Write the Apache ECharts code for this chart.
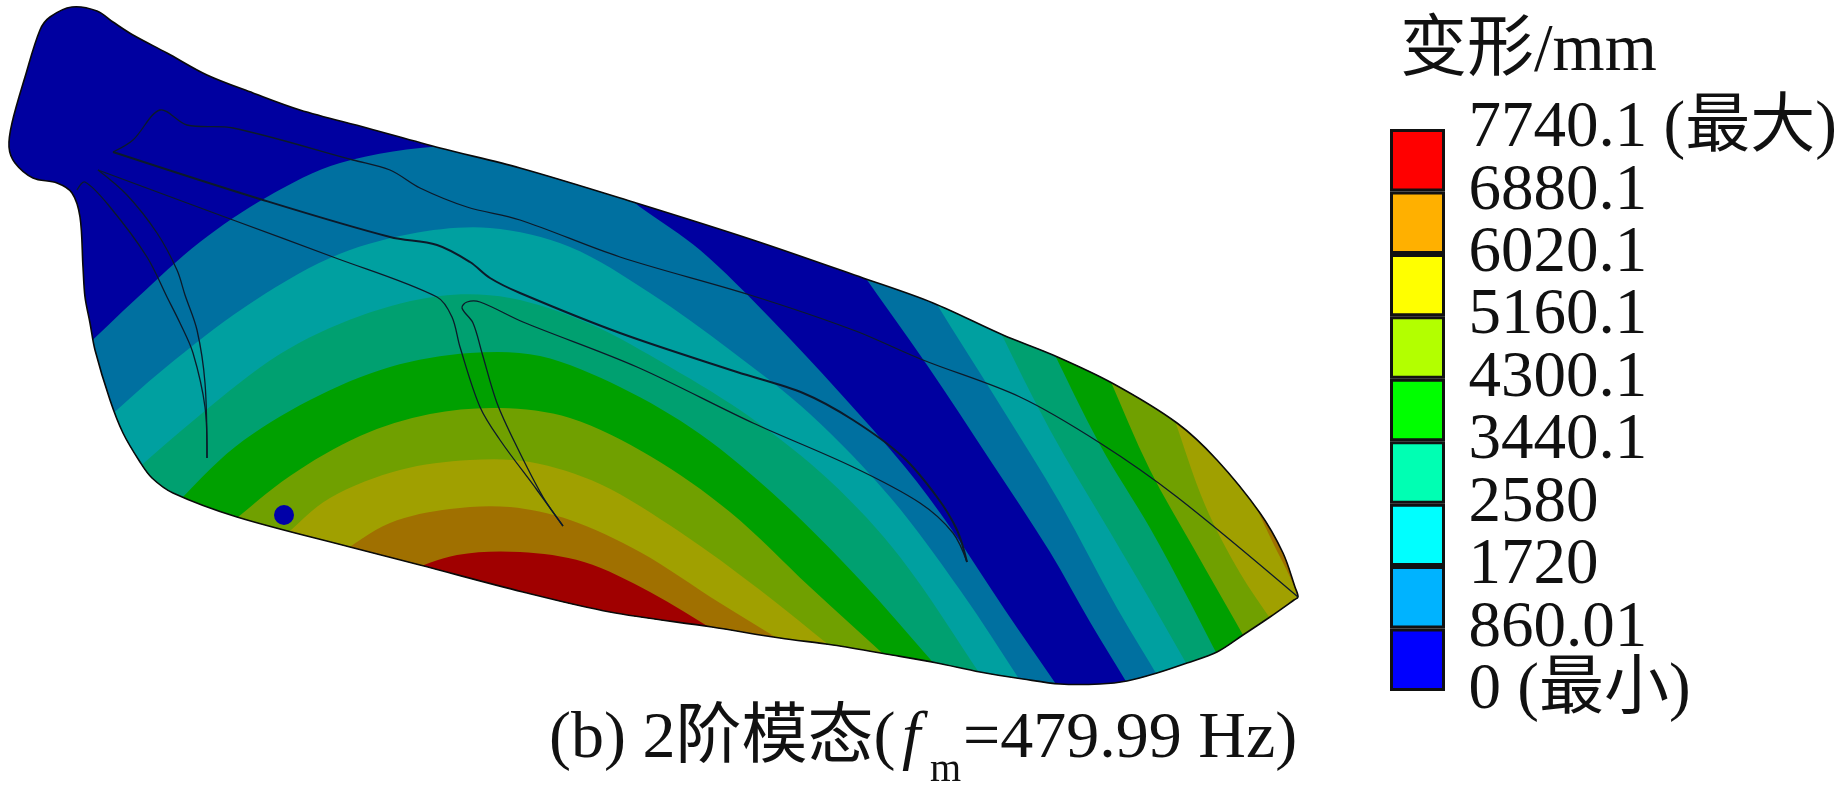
<!DOCTYPE html>
<html><head><meta charset="utf-8">
<style>html,body{margin:0;padding:0;background:#fff}#c{width:1843px;height:786px}</style>
<script src="https://cdn.jsdelivr.net/npm/echarts@6/dist/echarts.min.js"></script>
</head><body><div id="c"></div>
<script>
const legendTitle = '变形/mm';
const tickLabels = ['0 (最小)','860.01','1720','2580','3440.1','4300.1','5160.1','6020.1','6880.1','7740.1 (最大)'];
const legendColors = ['#0000ff','#00b3ff','#00ffff','#00ffb3','#00ff00','#b3ff00','#ffff00','#ffb000','#ff0000'];
const shadedColors = ['#0000a0','#0070a0','#00a0a0','#00a070','#00a000','#70a000','#a0a000','#a07000','#a00000'];
const captionA = '(b) 2阶模态(';
const captionB = '=479.99 Hz)';

const wingOutline = [[72,7],[97,11],[113,22],[133,35],[167,53],[207,75],[253,93],[300,110],[367,128],[440,148],[520,168],[633,202],[753,240],[863,278],[933,303],[1003,335],[1053,355],[1112,383],[1177,423],[1217,460],[1260,513],[1283,553],[1295,587],[1298,597],[1294,600],[1270,617],[1243,635],[1217,652],[1187,663],[1157,673],[1127,681],[1100,684],[1060,684],[1023,679],[980,672],[937,663],[892,655],[833,645],[780,638],[712,627],[610,612],[523,592],[420,565],[350,547],[237,517],[173,493],[152,478],[140,462],[123,433],[110,400],[95,350],[90,323],[85,297],[83,267],[80,217],[72,193],[57,183],[33,178],[15,163],[9,147],[12,123],[25,77],[40,30],[50,17]];

// left lobe contour lines, lowest level first
const lobe1 = [[55,375],[80,352],[137,298],[200,242],[267,197],[340,163],[447,146],[530,155],[615,188],[640,207],[700,250],[770,318],[840,393],[905,467],[950,527],[1005,610],[1060,690],[1080,720]];
const lobe2 = [[75,447],[100,425],[165,368],[245,307],[330,258],[410,234],[490,228],[570,247],[650,293],[730,350],[810,414],[890,497],[960,590],[1023,685],[1045,720]];
const lobe3 = [[105,497],[130,475],[200,415],[280,354],[360,316],[440,296],[510,298],[590,324],[670,367],[750,417],[830,481],[900,557],[982,677],[1005,712]];
const lobe4 = [[145,535],[170,510],[235,447],[310,400],[390,367],[470,353],[540,356],[620,387],[700,434],[780,500],[860,580],[937,667],[965,700]];
const lobe5 = [[200,548],[226,527],[290,476],[360,436],[430,414],[500,408],[570,418],[650,456],[730,512],[810,587],[892,662],[925,692]];
const lobe6 = [[255,562],[280,540],[330,498],[400,470],[470,460],[530,462],[600,484],[680,532],[760,590],[835,650],[870,678]];
const lobe7 = [[310,575],[335,557],[390,523],[450,509],[510,507],[570,520],[640,552],[720,603],[785,643],[820,665]];
const lobe8 = [[375,590],[405,573],[457,555],[520,552],[584,562],[650,592],[717,632],[750,652]];

// tip side contour lines, lowest level first
const tip1 = [[845,248],[860,270],[927,365],[990,460],[1050,552],[1090,622],[1130,688],[1150,722]];
const tip2 = [[918,270],[933,298],[1000,405],[1060,503],[1117,608],[1160,680],[1180,715]];
const tip3 = [[985,298],[997,325],[1050,430],[1110,532],[1150,600],[1190,670],[1210,705]];
const tip4 = [[1038,320],[1050,345],[1100,445],[1150,528],[1190,602],[1220,660],[1240,695]];
const tip5 = [[1098,350],[1108,375],[1150,470],[1193,547],[1247,642],[1265,675]];
const tip6 = [[1165,392],[1173,415],[1205,505],[1240,573],[1274,624],[1295,655]];
const tip7 = [[1245,485],[1255,505],[1273,543],[1290,577],[1300,602],[1310,625]];

const ribUpper = [[113,152],[133,140],[160,110],[187,125],[233,128],[353,160],[390,170],[420,188],[467,207],[520,220],[620,257],[750,295],[853,330],[923,360],[1020,397],[1100,443],[1177,497],[1298,597]];
const ribSpar = [[113,152],[263,200],[390,237],[437,245],[470,262],[490,278],[520,293],[620,333],[737,372],[803,393],[853,420],[903,457],[937,497],[957,530],[967,562]];
const ribReturn = [[967,562],[953,533],[920,503],[853,467],[753,423],[637,367],[523,322],[480,302],[467,302],[462,308],[473,323],[482,353],[497,403],[517,447],[543,497],[563,526]];
const ribMid = [[563,526],[537,490],[500,440],[480,407],[460,347],[452,317],[437,297],[333,257],[233,220],[98,170]];
const ribRoot = [[98,170],[127,195],[157,233],[177,270],[185,295],[197,330],[205,383],[207,458]];
const ribRoot2 = [[207,458],[205,407],[193,353],[180,323],[167,297],[147,257],[110,207],[85,182],[77,190]];

const probe = [[284,515]];

const lobes = [lobe1,lobe2,lobe3,lobe4,lobe5,lobe6,lobe7,lobe8];
const tips = [tip1,tip2,tip3,tip4,tip5,tip6,tip7];
const ribs = [ribUpper,ribSpar,ribReturn,ribMid,ribRoot,ribRoot2];
const ribWidths = [1.3,2,1.3,1.3,1.3,1.3];

const FONT = '"Liberation Serif","Noto Sans CJK SC",serif';
const chart = echarts.init(document.getElementById('c'),null,{renderer:'canvas'});
const px = (api,pts)=>pts.map(p=>api.coord(p));
const BOTTOM = 780;
const SMOOTH = 0.33;

function contourSeries(list, closeFn, z){
  return {
    type:'custom', xAxisIndex:0, yAxisIndex:0, clip:false, silent:true, z,
    data:list.map((_,i)=>[i,i+1]),
    encode:{x:0,y:1},
    renderItem(params,api){
      const i = api.value(0);
      const pts = closeFn(list[i]);
      return {type:'polygon',
        shape:{points:px(api,pts),smooth:SMOOTH},
        style:{fill:shadedColors[i+1],stroke:null},
        clipPath:{type:'polygon',shape:{points:px(api,wingOutline),smooth:SMOOTH}}};
    }
  };
}
const closeLobe = c=>{const a=c[0],b=c[c.length-1];return c.concat([[b[0],BOTTOM],[a[0]-50,BOTTOM]]);};
const closeTip = c=>{const a=c[0],b=c[c.length-1];return c.concat([[b[0],BOTTOM],[1500,BOTTOM],[1500,100],[a[0],100]]);};

const series = [
 {type:'custom',xAxisIndex:0,yAxisIndex:0,clip:false,silent:true,z:1,data:[[0,0]],encode:{x:0,y:1},
  renderItem(params,api){return {type:'polygon',shape:{points:px(api,wingOutline),smooth:SMOOTH},style:{fill:shadedColors[0]}};}},
 contourSeries(lobes,closeLobe,2),
 contourSeries(tips,closeTip,2),
 {type:'custom',xAxisIndex:0,yAxisIndex:0,clip:false,silent:true,z:3,data:[[0,0]],encode:{x:0,y:1},
  renderItem(params,api){return {type:'polygon',shape:{points:px(api,wingOutline),smooth:SMOOTH},style:{fill:'none',stroke:'#0a0a0a',lineWidth:1.6}};}},
 {type:'custom',xAxisIndex:0,yAxisIndex:0,clip:false,silent:true,z:4,data:ribs.map((_,i)=>[i,i+1]),encode:{x:0,y:1},
  renderItem(params,api){const i=api.value(0);
    return {type:'polyline',shape:{points:px(api,ribs[i]),smooth:SMOOTH},style:{fill:'none',stroke:'#0c1a2a',lineWidth:ribWidths[i]}};}},
 {type:'scatter',xAxisIndex:0,yAxisIndex:0,silent:true,z:5,data:probe,symbol:'circle',symbolSize:20,itemStyle:{color:'#0000a8',opacity:1}},
 ...legendColors.map(c=>({type:'bar',xAxisIndex:1,yAxisIndex:1,stack:'legend',silent:true,z:6,barWidth:'100%',data:[1],
   itemStyle:{color:c,borderColor:'#111',borderWidth:3}})),
 {type:'custom',xAxisIndex:1,yAxisIndex:1,clip:false,silent:true,z:7,data:tickLabels.map((_,i)=>[0,i]),encode:{x:0,y:1},
  renderItem(params,api){const i=api.value(1);const p=api.coord([0,i]);
    return {type:'text',x:p[0]+51,y:p[1],style:{text:tickLabels[i],font:'65px '+FONT,fill:'#111',align:'left',verticalAlign:'middle'}};}}
];

chart.setOption({
 animation:false,
 backgroundColor:'#fff',
 grid:[{left:0,top:0,width:1843,height:786},{left:1390,top:129,width:55,height:562}],
 xAxis:[{type:'value',min:0,max:1843,show:false},{type:'category',gridIndex:1,data:[''],show:false}],
 yAxis:[{type:'value',min:0,max:786,inverse:true,show:false},
  {type:'value',gridIndex:1,min:0,max:9,interval:1,show:false}],
 graphic:[
  {type:'text',left:1400,top:19,style:{text:legendTitle,font:'67px '+FONT,fill:'#111'}},
  {type:'text',left:549,top:707,style:{text:captionA,font:'66px '+FONT,fill:'#111'}},
  {type:'text',left:902,top:707,style:{text:'f',font:'italic 66px '+FONT,fill:'#111'}},
  {type:'text',left:930,top:750,style:{text:'m',font:'40px '+FONT,fill:'#111'}},
  {type:'text',left:963,top:707,style:{text:captionB,font:'66px '+FONT,fill:'#111'}}
 ],
 series
});
</script></body></html>
